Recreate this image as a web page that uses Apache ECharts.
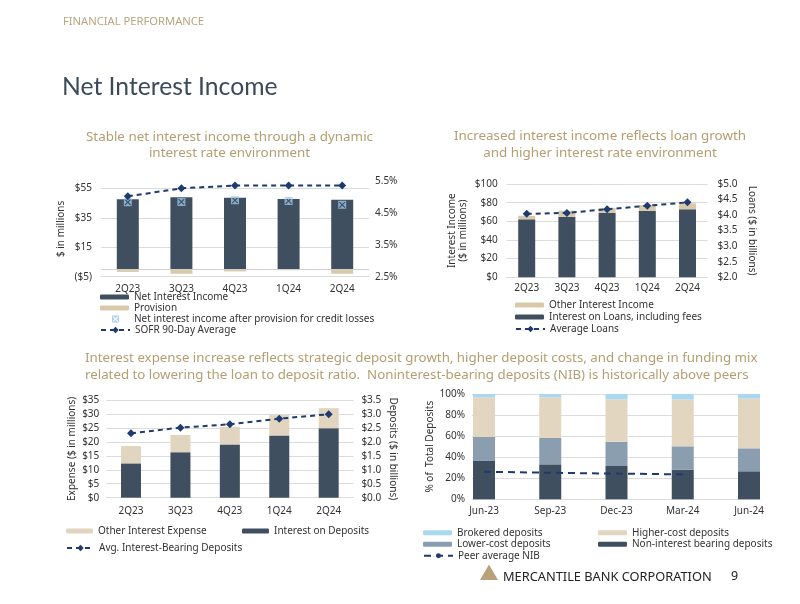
<!DOCTYPE html>
<html>
<head>
<meta charset="utf-8">
<script src="https://cdn.jsdelivr.net/npm/echarts@6/dist/echarts.min.js"></script>
<style>
html,body{margin:0;padding:0;background:#fff;}
#main{width:800px;height:604px;}
</style>
</head>
<body>
<div id="main"></div>
<script>
// ---- Chart 1: Net interest income ----
const c1Categories = ['2Q23', '3Q23', '4Q23', '1Q24', '2Q24'];
const c1NetInterestIncome = [47.6, 49.0, 48.6, 47.7, 47.2];
const c1Provision = [-1.7, -3.0, -1.4, -0.6, -3.0];
const c1NIIAfterProvision = [45.6, 45.8, 46.9, 46.4, 43.8];
const c1SOFR = [5.02, 5.27, 5.36, 5.36, 5.36];

// ---- Chart 2: Interest income ----
const c2Categories = ['2Q23', '3Q23', '4Q23', '1Q24', '2Q24'];
const c2InterestOnLoans = [62.1, 64.9, 68.9, 71.4, 72.9];
const c2OtherInterestIncome = [3.9, 6.5, 5.3, 6.1, 6.4];
const c2AverageLoans = [4.04, 4.07, 4.19, 4.30, 4.41];

// ---- Chart 3: Interest expense ----
const c3Categories = ['2Q23', '3Q23', '4Q23', '1Q24', '2Q24'];
const c3InterestOnDeposits = [12.3, 16.3, 19.1, 22.3, 24.9];
const c3OtherInterestExpense = [6.2, 6.2, 6.3, 7.3, 7.2];
const c3AvgIBDeposits = [2.31, 2.51, 2.63, 2.83, 2.99];

// ---- Chart 4: Deposit mix ----
const c4Categories = ['Jun-23', 'Sep-23', 'Dec-23', 'Mar-24', 'Jun-24'];
const c4NonInterestBearing = [36.4, 33.2, 31.6, 28.1, 26.6];
const c4LowerCost = [22.8, 25.0, 23.1, 22.2, 21.8];
const c4HigherCost = [37.7, 38.7, 40.3, 44.7, 47.5];
const c4Brokered = [3.1, 3.1, 5.0, 5.0, 4.1];
const c4PeerAvgNIB = [26.2, 25.2, 24.4, 23.7, null];

const DARK = '#3f4f5f';
const TAN = '#d9c9ab';
const TAN2 = '#e2d5c0';
const NAVY = '#1f3a6e';
const GRID = '#dcdcdc';
const TXT = '#333';
const FONT = 'Noto Sans';
const GOLD = '#b59d70';

const lbl = (extra) => Object.assign({ fontFamily: FONT, fontSize: 10, color: TXT }, extra || {});
const nameStyle = { fontFamily: FONT, fontSize: 10, color: TXT, lineHeight: 11 };
const dashLine = (name, data, xi, yi) => ({
  name, type: 'line', data, xAxisIndex: xi, yAxisIndex: yi,
  symbol: 'diamond', symbolSize: 8, z: 5,
  lineStyle: { type: [5, 4], width: 2, color: NAVY },
  itemStyle: { color: NAVY }
});
const xMark = 'path://M0,0L10,0L10,10L0,10Z M1,2L4,5L1,8L2,9L5,6L8,9L9,8L6,5L9,2L8,1L5,4L2,1Z';
const legText = (lh) => ({ fontFamily: FONT, fontSize: 10, color: '#333', lineHeight: lh });

const chart = echarts.init(document.getElementById('main'), null, { renderer: 'canvas' });

const option = {
  animation: false,
  backgroundColor: '#fff',
  grid: [
    { left: 101, right: 431, top: 181, bottom: 327.3 },
    { left: 506.6, right: 92.4, top: 184, bottom: 326.7 },
    { left: 106.3, right: 446.6, top: 400, bottom: 106.3 },
    { left: 472, right: 40, top: 394, bottom: 104.7 },
    { left: 484, right: 51, top: 394, bottom: 104.7 }
  ],
  xAxis: [
    { type: 'category', gridIndex: 0, data: c1Categories, axisTick: { show: false },
      axisLine: { onZero: false, lineStyle: { color: GRID } }, axisLabel: lbl({ margin: 7 }) },
    { type: 'category', gridIndex: 1, data: c2Categories, axisTick: { show: false },
      axisLine: { lineStyle: { color: GRID } }, axisLabel: lbl({ margin: 6 }) },
    { type: 'category', gridIndex: 2, data: c3Categories, axisTick: { show: false },
      axisLine: { lineStyle: { color: GRID } }, axisLabel: lbl({ margin: 8 }) },
    { type: 'category', gridIndex: 3, data: c4Categories, axisTick: { show: false },
      axisLine: { lineStyle: { color: GRID } }, axisLabel: { show: false } },
    { type: 'category', gridIndex: 4, data: c4Categories, boundaryGap: false, axisTick: { show: false },
      axisLine: { show: false }, axisLabel: lbl({ margin: 7 }) }
  ],
  yAxis: [
    { type: 'value', gridIndex: 0, min: -5, max: 60, interval: 20,
      axisLabel: lbl({ margin: 9, formatter: v => v >= 60 ? '' : (v < 0 ? '($' + (-v) + ')' : '$' + v) }),
      splitLine: { lineStyle: { color: [GRID, GRID, GRID, GRID, 'rgba(0,0,0,0)'] } },
      name: '$ in millions', nameLocation: 'middle', nameGap: 34, nameTextStyle: nameStyle },
    { type: 'value', gridIndex: 0, position: 'right', min: 2.5, max: 5.5, interval: 1,
      axisLabel: lbl({ margin: 6, formatter: v => v.toFixed(1) + '%' }), splitLine: { show: false } },
    { type: 'value', gridIndex: 1, min: 0, max: 100, interval: 20,
      axisLabel: lbl({ margin: 9, formatter: v => '$' + v }),
      splitLine: { lineStyle: { color: GRID } },
      name: 'Interest Income\n($ in millions)', nameLocation: 'middle', nameGap: 38, nameTextStyle: nameStyle },
    { type: 'value', gridIndex: 1, position: 'right', min: 2, max: 5, interval: 0.5,
      axisLabel: lbl({ margin: 10, formatter: v => '$' + v.toFixed(1) }), splitLine: { show: false },
      name: 'Loans ($ in billions)', nameLocation: 'middle', nameRotate: -90, nameGap: 39, nameTextStyle: nameStyle },
    { type: 'value', gridIndex: 2, min: 0, max: 35, interval: 5,
      axisLabel: lbl({ margin: 7, formatter: v => '$' + v }),
      splitLine: { lineStyle: { color: GRID } },
      name: 'Expense ($ in millions)', nameLocation: 'middle', nameGap: 29, nameTextStyle: nameStyle },
    { type: 'value', gridIndex: 2, position: 'right', min: 0, max: 3.5, interval: 0.5,
      axisLabel: lbl({ margin: 8, formatter: v => '$' + v.toFixed(1) }), splitLine: { show: false },
      name: 'Deposits ($ in billions)', nameLocation: 'middle', nameRotate: -90, nameGap: 34, nameTextStyle: nameStyle },
    { type: 'value', gridIndex: 3, min: 0, max: 100, interval: 20,
      axisLabel: lbl({ margin: 7, formatter: v => v + '%' }),
      splitLine: { lineStyle: { color: GRID } },
      name: '% of  Total Deposits', nameLocation: 'middle', nameGap: 33, nameTextStyle: nameStyle },
    { type: 'value', gridIndex: 4, min: 0, max: 100, interval: 20, show: false, splitLine: { show: false } }
  ],
  legend: [
    { data: ['Net Interest Income', 'Provision'], orient: 'vertical', left: 100, top: 291.5, padding: 0,
      itemGap: 0, itemWidth: 29, itemHeight: 5, selectedMode: false, textStyle: legText(11) },
    { data: ['Net interest income after provision for credit losses'], orient: 'vertical', left: 112, top: 313.5, padding: 0,
      itemGap: 0, itemWidth: 7, itemHeight: 7, selectedMode: false, textStyle: Object.assign(legText(11), { padding: [0, 0, 0, 10] }) },
    { data: ['SOFR 90-Day Average'], orient: 'vertical', left: 100, top: 324.5, padding: 0,
      itemGap: 0, itemWidth: 29, itemHeight: 8, selectedMode: false, textStyle: legText(11) },

    { data: ['Other Interest Income', 'Interest on Loans, including fees'], orient: 'vertical', left: 515, top: 299, padding: 0,
      itemGap: 0, itemWidth: 29, itemHeight: 5, selectedMode: false, textStyle: legText(12) },
    { data: ['Average Loans'], orient: 'vertical', left: 515, top: 323, padding: 0,
      itemGap: 0, itemWidth: 29, itemHeight: 8, selectedMode: false, textStyle: legText(12) },

    { data: ['Other Interest Expense'], orient: 'vertical', left: 66, top: 525.5, padding: 0,
      itemGap: 0, itemWidth: 27, itemHeight: 5, selectedMode: false, textStyle: legText(11) },
    { data: ['Interest on Deposits'], orient: 'vertical', left: 242, top: 525.5, padding: 0,
      itemGap: 0, itemWidth: 27, itemHeight: 5, selectedMode: false, textStyle: legText(11) },
    { data: ['Avg. Interest-Bearing Deposits'], orient: 'vertical', left: 66, top: 542.5, padding: 0,
      itemGap: 0, itemWidth: 27, itemHeight: 8, selectedMode: false, textStyle: legText(11) },

    { data: ['Brokered deposits', 'Lower-cost deposits'], orient: 'vertical', left: 423, top: 527, padding: 0,
      itemGap: 0, itemWidth: 29, itemHeight: 5, selectedMode: false, textStyle: legText(11.5) },
    { data: ['Higher-cost deposits', 'Non-interest bearing deposits'], orient: 'vertical', left: 598, top: 527, padding: 0,
      itemGap: 0, itemWidth: 29, itemHeight: 5, selectedMode: false, textStyle: legText(11.5) },
    { data: ['Peer average NIB'], orient: 'vertical', left: 423, top: 550, padding: 0,
      itemGap: 0, itemWidth: 29, itemHeight: 6, selectedMode: false, textStyle: legText(11.5) }
  ],
  series: [
    // chart 1
    { name: 'Net Interest Income', type: 'bar', stack: 'c1', xAxisIndex: 0, yAxisIndex: 0, data: c1NetInterestIncome,
      barWidth: 22, itemStyle: { color: DARK },
      markLine: { silent: true, symbol: 'none', label: { show: false }, data: [{ yAxis: 0 }],
        lineStyle: { color: '#d0d0d0', type: 'solid', width: 1 } } },
    { name: 'Provision', type: 'bar', stack: 'c1', xAxisIndex: 0, yAxisIndex: 0, data: c1Provision,
      barWidth: 22, itemStyle: { color: TAN } },
    { name: 'Net interest income after provision for credit losses', type: 'scatter', xAxisIndex: 0, yAxisIndex: 0,
      data: c1NIIAfterProvision, symbol: xMark, symbolSize: 8, z: 4, itemStyle: { color: '#9cc3e6' } },
    dashLine('SOFR 90-Day Average', c1SOFR, 0, 1),

    // chart 2
    { name: 'Interest on Loans, including fees', type: 'bar', stack: 'c2', xAxisIndex: 1, yAxisIndex: 2,
      data: c2InterestOnLoans, barWidth: 17, itemStyle: { color: DARK } },
    { name: 'Other Interest Income', type: 'bar', stack: 'c2', xAxisIndex: 1, yAxisIndex: 2,
      data: c2OtherInterestIncome, barWidth: 17, itemStyle: { color: TAN } },
    dashLine('Average Loans', c2AverageLoans, 1, 3),

    // chart 3
    { name: 'Interest on Deposits', type: 'bar', stack: 'c3', xAxisIndex: 2, yAxisIndex: 4,
      data: c3InterestOnDeposits, barWidth: 20, itemStyle: { color: DARK } },
    { name: 'Other Interest Expense', type: 'bar', stack: 'c3', xAxisIndex: 2, yAxisIndex: 4,
      data: c3OtherInterestExpense, barWidth: 20, itemStyle: { color: TAN2 } },
    dashLine('Avg. Interest-Bearing Deposits', c3AvgIBDeposits, 2, 5),

    // chart 4
    { name: 'Non-interest bearing deposits', type: 'bar', stack: 'c4', xAxisIndex: 4, yAxisIndex: 7,
      data: c4NonInterestBearing, barWidth: 22, clip: false, itemStyle: { color: DARK } },
    { name: 'Lower-cost deposits', type: 'bar', stack: 'c4', xAxisIndex: 4, yAxisIndex: 7,
      data: c4LowerCost, barWidth: 22, clip: false, itemStyle: { color: '#8b9eb0' } },
    { name: 'Higher-cost deposits', type: 'bar', stack: 'c4', xAxisIndex: 4, yAxisIndex: 7,
      data: c4HigherCost, barWidth: 22, clip: false, itemStyle: { color: '#e3d6c1' } },
    { name: 'Brokered deposits', type: 'bar', stack: 'c4', xAxisIndex: 4, yAxisIndex: 7,
      data: c4Brokered, barWidth: 22, clip: false, itemStyle: { color: '#a8d8f2' } },
    { name: 'Peer average NIB', type: 'line', xAxisIndex: 4, yAxisIndex: 7, data: c4PeerAvgNIB,
      symbol: 'none', z: 5, lineStyle: { type: [7, 5], width: 2, color: NAVY }, itemStyle: { color: NAVY } }
  ],
  graphic: [
    { type: 'text', left: 63, top: 16, style: { text: 'FINANCIAL PERFORMANCE', fontFamily: FONT, fontSize: 11.2, fill: '#b9a57f' } },
    { type: 'text', left: 62, top: 75, style: { text: 'Net Interest Income', fontFamily: 'Lato', fontSize: 24.7, fill: '#3b4a5a' } },
    { type: 'text', x: 229.5, y: 145, style: { text: 'Stable net interest income through a dynamic\ninterest rate environment',
        fontFamily: FONT, fontSize: 13.4, lineHeight: 16.5, fill: GOLD, align: 'center', verticalAlign: 'middle' } },
    { type: 'text', x: 600, y: 144.5, style: { text: 'Increased interest income reflects loan growth\nand higher interest rate environment',
        fontFamily: FONT, fontSize: 13.4, lineHeight: 16.5, fill: GOLD, align: 'center', verticalAlign: 'middle' } },
    { type: 'text', x: 85, y: 366.5, style: { text: 'Interest expense increase reflects strategic deposit growth, higher deposit costs, and change in funding mix\nrelated to lowering the loan to deposit ratio.  Noninterest-bearing deposits (NIB) is historically above peers',
        fontFamily: FONT, fontSize: 13.3, lineHeight: 17, fill: GOLD, align: 'left', verticalAlign: 'middle' } },
    { type: 'polygon', shape: { points: [[480, 580], [489, 564.5], [498, 580]] }, style: { fill: '#b9a27a' } },
    { type: 'text', x: 503, y: 577, style: { text: 'MERCANTILE BANK CORPORATION', fontFamily: FONT, fontSize: 12.8, fill: '#222',
        align: 'left', verticalAlign: 'middle' } },
    { type: 'text', x: 731, y: 576, style: { text: '9', fontFamily: FONT, fontSize: 12.5, fill: '#222', align: 'left', verticalAlign: 'middle' } }
  ]
};
chart.setOption(option);
</script>
</body>
</html>
